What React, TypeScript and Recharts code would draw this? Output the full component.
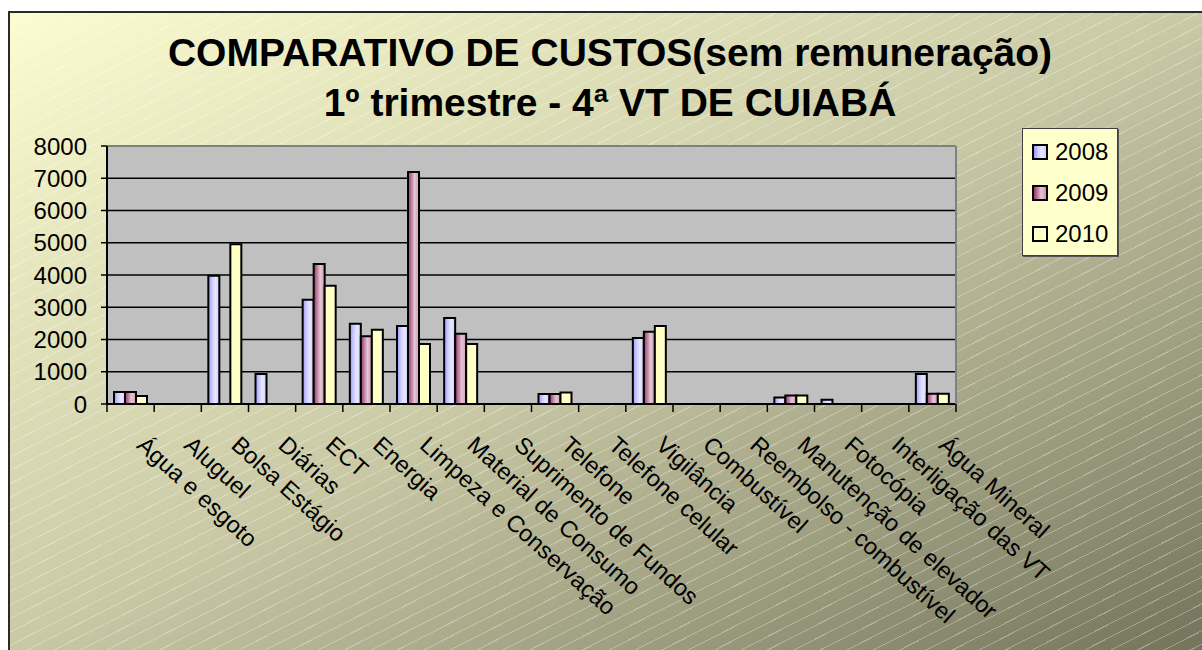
import { BarChart, Bar, XAxis, YAxis, CartesianGrid, Legend } from "recharts";

const categories = [
  "Água e esgoto",
  "Aluguel",
  "Bolsa Estágio",
  "Diárias",
  "ECT",
  "Energia",
  "Limpeza e Conservação",
  "Material de Consumo",
  "Suprimento de Fundos",
  "Telefone",
  "Telefone celular",
  "Vigilância",
  "Combustível",
  "Reembolso - combustível",
  "Manutenção de elevador",
  "Fotocópia",
  "Interligação das VT",
  "Água Mineral",
];

const values2008 = [370, null, 3980, 930, 3230, 2490, 2420, 2670, null, 310, null, 2050, null, null, 205, 130, null, 930];
const values2009 = [370, null, null, null, 4340, 2100, 7190, 2180, null, 310, null, 2240, null, null, 265, null, null, 320];
const values2010 = [250, null, 4950, null, 3670, 2300, 1860, 1860, null, 360, null, 2420, null, null, 265, null, null, 320];

const yTicks = [0, 1000, 2000, 3000, 4000, 5000, 6000, 7000, 8000];

const data = categories.map((name, i) => ({
  name,
  y2008: values2008[i],
  y2009: values2009[i],
  y2010: values2010[i],
}));

const PLOT_W = 849;
const BAND = PLOT_W / categories.length;
const FONT = '"Liberation Sans", Arial, sans-serif';

const swatchBg = {
  y2008: "linear-gradient(to right, #9999ff 0%, #ccccff 35%, #e8e8ff 65%, #ccccff 100%)",
  y2009: "linear-gradient(to right, #993366 0%, #c08aa6 35%, #e6c6d6 60%, #cc99b3 100%)",
  y2010: "#ffffcc",
};

function CategoryTick(props) {
  const { x, y, payload, index } = props;
  const half = BAND / 2;
  return (
    <g>
      <line x1={x - half} y1={y} x2={x - half} y2={y + 8} stroke="#000" strokeWidth={1.5} />
      {index === categories.length - 1 && (
        <line x1={x + half} y1={y} x2={x + half} y2={y + 8} stroke="#000" strokeWidth={1.5} />
      )}
      <text
        transform={`translate(${x + 5},${y + 43}) rotate(42)`}
        fontSize={23.5}
        fill="#000"
        textAnchor="start"
        fontFamily={FONT}
      >
        {payload.value}
      </text>
    </g>
  );
}

function LegendBox({ payload }) {
  return (
    <div
      style={{
        width: 96,
        height: 128,
        boxSizing: "border-box",
        background: "#ffffcc",
        border: "1px solid #404040",
        boxShadow: "1px 1px 0 #555",
        paddingTop: 2,
        paddingLeft: 9,
      }}
    >
      {(payload || []).map((p) => (
        <div key={p.dataKey} style={{ height: 41, display: "flex", alignItems: "center" }}>
          <span
            style={{
              width: 16,
              height: 16,
              boxSizing: "border-box",
              border: "2px solid #000",
              background: swatchBg[p.dataKey],
              marginRight: 7,
            }}
          />
          <span style={{ fontSize: 24, color: "#000", fontFamily: FONT }}>{p.value}</span>
        </div>
      ))}
    </div>
  );
}

export default function App() {
  return (
    <div
      style={{
        position: "absolute",
        left: 8,
        top: 11,
        width: 1194,
        height: 639,
        boxSizing: "border-box",
        borderLeft: "2px solid #2a2a2a",
        borderTop: "2px solid #2a2a2a",
        fontFamily: FONT,
        overflow: "hidden",
        background:
          "repeating-linear-gradient(153deg, rgba(255,255,255,0) 0px, rgba(255,255,255,0) 11px, rgba(255,255,255,0.3) 11px, rgba(255,255,255,0.3) 12px), linear-gradient(to bottom right, #fcfcd0 0%, #c9c9a6 50%, #74745c 100%)",
      }}
    >
      <div
        style={{
          position: "absolute",
          left: 0,
          top: 15,
          width: 1192,
          paddingLeft: 8,
          boxSizing: "border-box",
          textAlign: "center",
          fontWeight: "bold",
          fontSize: 39,
          lineHeight: "50px",
          color: "#000",
        }}
      >
        COMPARATIVO DE CUSTOS(sem remuneração)
        <br />
        1º trimestre - 4ª VT DE CUIABÁ
      </div>
      <BarChart
        width={1192}
        height={637}
        data={data}
        margin={{ top: 132, right: 245, bottom: 6, left: 0 }}
        barCategoryGap={7}
        barGap={0}
      >
        <defs>
          <linearGradient id="g2008" x1="0" y1="0" x2="1" y2="0">
            <stop offset="0%" stopColor="#9999ff" />
            <stop offset="35%" stopColor="#ccccff" />
            <stop offset="65%" stopColor="#e8e8ff" />
            <stop offset="100%" stopColor="#ccccff" />
          </linearGradient>
          <linearGradient id="g2009" x1="0" y1="0" x2="1" y2="0">
            <stop offset="0%" stopColor="#993366" />
            <stop offset="35%" stopColor="#c08aa6" />
            <stop offset="60%" stopColor="#e6c6d6" />
            <stop offset="100%" stopColor="#cc99b3" />
          </linearGradient>
          <linearGradient id="g2010" x1="0" y1="0" x2="1" y2="0">
            <stop offset="0%" stopColor="#ffffc0" />
            <stop offset="100%" stopColor="#ffffcc" />
          </linearGradient>
        </defs>
        <CartesianGrid vertical={false} fill="#c0c0c0" stroke="#000" strokeWidth={1.5} />
        <XAxis
          dataKey="name"
          height={240}
          interval={0}
          tickLine={false}
          tickSize={0}
          tickMargin={0}
          tick={<CategoryTick />}
          axisLine={{ stroke: "#000", strokeWidth: 2 }}
        />
        <XAxis
          xAxisId="top"
          orientation="top"
          dataKey="name"
          height={1}
          tick={false}
          tickLine={false}
          axisLine={{ stroke: "#808080", strokeWidth: 2 }}
        />
        <YAxis
          domain={[0, 8000]}
          ticks={yTicks}
          width={97}
          tickSize={6}
          tickMargin={14}
          tick={{ fill: "#000", fontSize: 24, fontFamily: FONT }}
          tickLine={{ stroke: "#000", strokeWidth: 1.5 }}
          axisLine={{ stroke: "#000", strokeWidth: 2 }}
        />
        <YAxis
          yAxisId="right"
          orientation="right"
          domain={[0, 8000]}
          width={1}
          tick={false}
          tickLine={false}
          axisLine={{ stroke: "#808080", strokeWidth: 2 }}
        />
        <Legend
          layout="vertical"
          align="center"
          verticalAlign="middle"
          content={<LegendBox />}
          wrapperStyle={{ left: 1012, top: 115, width: 96 }}
        />
        <Bar dataKey="y2008" name="2008" fill="url(#g2008)" stroke="#000" strokeWidth={2} isAnimationActive={false} />
        <Bar dataKey="y2009" name="2009" fill="url(#g2009)" stroke="#000" strokeWidth={2} isAnimationActive={false} />
        <Bar dataKey="y2010" name="2010" fill="url(#g2010)" stroke="#000" strokeWidth={2} isAnimationActive={false} />
      </BarChart>
    </div>
  );
}
